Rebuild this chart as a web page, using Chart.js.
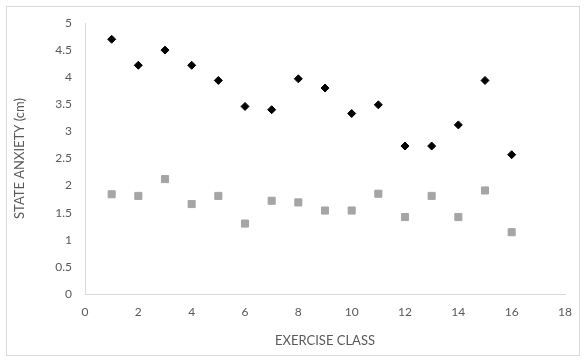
<!DOCTYPE html>
<html lang="en">
<head>
    <meta charset="UTF-8">
    <title>State anxiety by exercise class</title>
    <style>
        body {
            margin: 0;
            padding: 0;
            background: #fff;
        }
        .wrap {
            position: relative;
            width: 586px;
            height: 362px;
        }
    </style>
</head>
<body>
    <div class="wrap">
        <canvas id="anxietyChart" width="586" height="362"></canvas>
    </div>

    <script src="https://cdn.jsdelivr.net/npm/chart.js"></script>
    <script>
        // exercise class numbers
        const classes = [1, 2, 3, 4, 5, 6, 7, 8, 9, 10, 11, 12, 13, 14, 15, 16];
        // state anxiety readings (cm)
        const seriesA = [4.70, 4.22, 4.50, 4.22, 3.94, 3.46, 3.40, 3.97, 3.80, 3.33, 3.49, 2.73, 2.73, 3.12, 3.94, 2.57];
        const seriesB = [1.84, 1.81, 2.12, 1.66, 1.81, 1.30, 1.72, 1.69, 1.54, 1.54, 1.85, 1.42, 1.81, 1.42, 1.91, 1.14];

        const xTitle = 'EXERCISE CLASS';
        const yTitle = 'STATE ANXIETY (cm)';

        function toPoints(vals) {
            return classes.map(function(c, i) { return { x: c, y: vals[i] }; });
        }

        // light frame round the whole chart
        const frame = {
            id: 'frame',
            beforeDraw: function(chart) {
                const c = chart.ctx;
                c.save();
                c.strokeStyle = '#d9d9d9';
                c.lineWidth = 1;
                c.strokeRect(6.5, 6.5, 573, 349);
                c.restore();
            }
        };

        const tickFont = { family: 'Lato, "Liberation Sans", sans-serif', size: 12 };
        const titleFont = { family: 'Lato, "Liberation Sans", sans-serif', size: 13 };

        const ctx = document.getElementById('anxietyChart').getContext('2d');
        new Chart(ctx, {
            type: 'scatter',
            data: {
                datasets: [{
                    label: 'A',
                    data: toPoints(seriesA),
                    pointStyle: 'rectRot',
                    pointRadius: 4,
                    backgroundColor: '#000',
                    borderColor: '#000',
                    borderWidth: 1
                }, {
                    label: 'B',
                    data: toPoints(seriesB),
                    pointStyle: 'rect',
                    pointRadius: 5,
                    backgroundColor: '#a5a5a5',
                    borderColor: '#a5a5a5',
                    borderWidth: 1
                }]
            },
            options: {
                responsive: false,
                animation: false,
                layout: {
                    padding: { left: 8, right: 21, top: 23, bottom: 10 }
                },
                plugins: {
                    legend: { display: false },
                    tooltip: { enabled: false }
                },
                scales: {
                    x: {
                        type: 'linear',
                        min: 0,
                        max: 18,
                        ticks: { stepSize: 2, color: '#595959', font: tickFont, padding: 11 },
                        grid: { display: false, drawTicks: false },
                        border: { color: '#d9d9d9', width: 1 },
                        title: { display: true, text: xTitle, color: '#595959', font: titleFont, padding: { top: 4, bottom: 3 } },
                        afterFit: function(scale) { scale.height = 362 - 294 - 10; }
                    },
                    y: {
                        min: 0,
                        max: 5,
                        ticks: {
                            stepSize: 0.5,
                            color: '#595959',
                            font: tickFont,
                            padding: 13,
                            callback: function(v) { return String(Number(v.toFixed(1))); }
                        },
                        grid: { display: false, drawTicks: false },
                        border: { color: '#d9d9d9', width: 1 },
                        title: { display: true, text: yTitle, color: '#595959', font: titleFont, padding: { top: 4, bottom: 4 } },
                        afterFit: function(scale) { scale.width = 85 - 8; }
                    }
                }
            },
            plugins: [frame]
        });
    </script>
</body>
</html>
